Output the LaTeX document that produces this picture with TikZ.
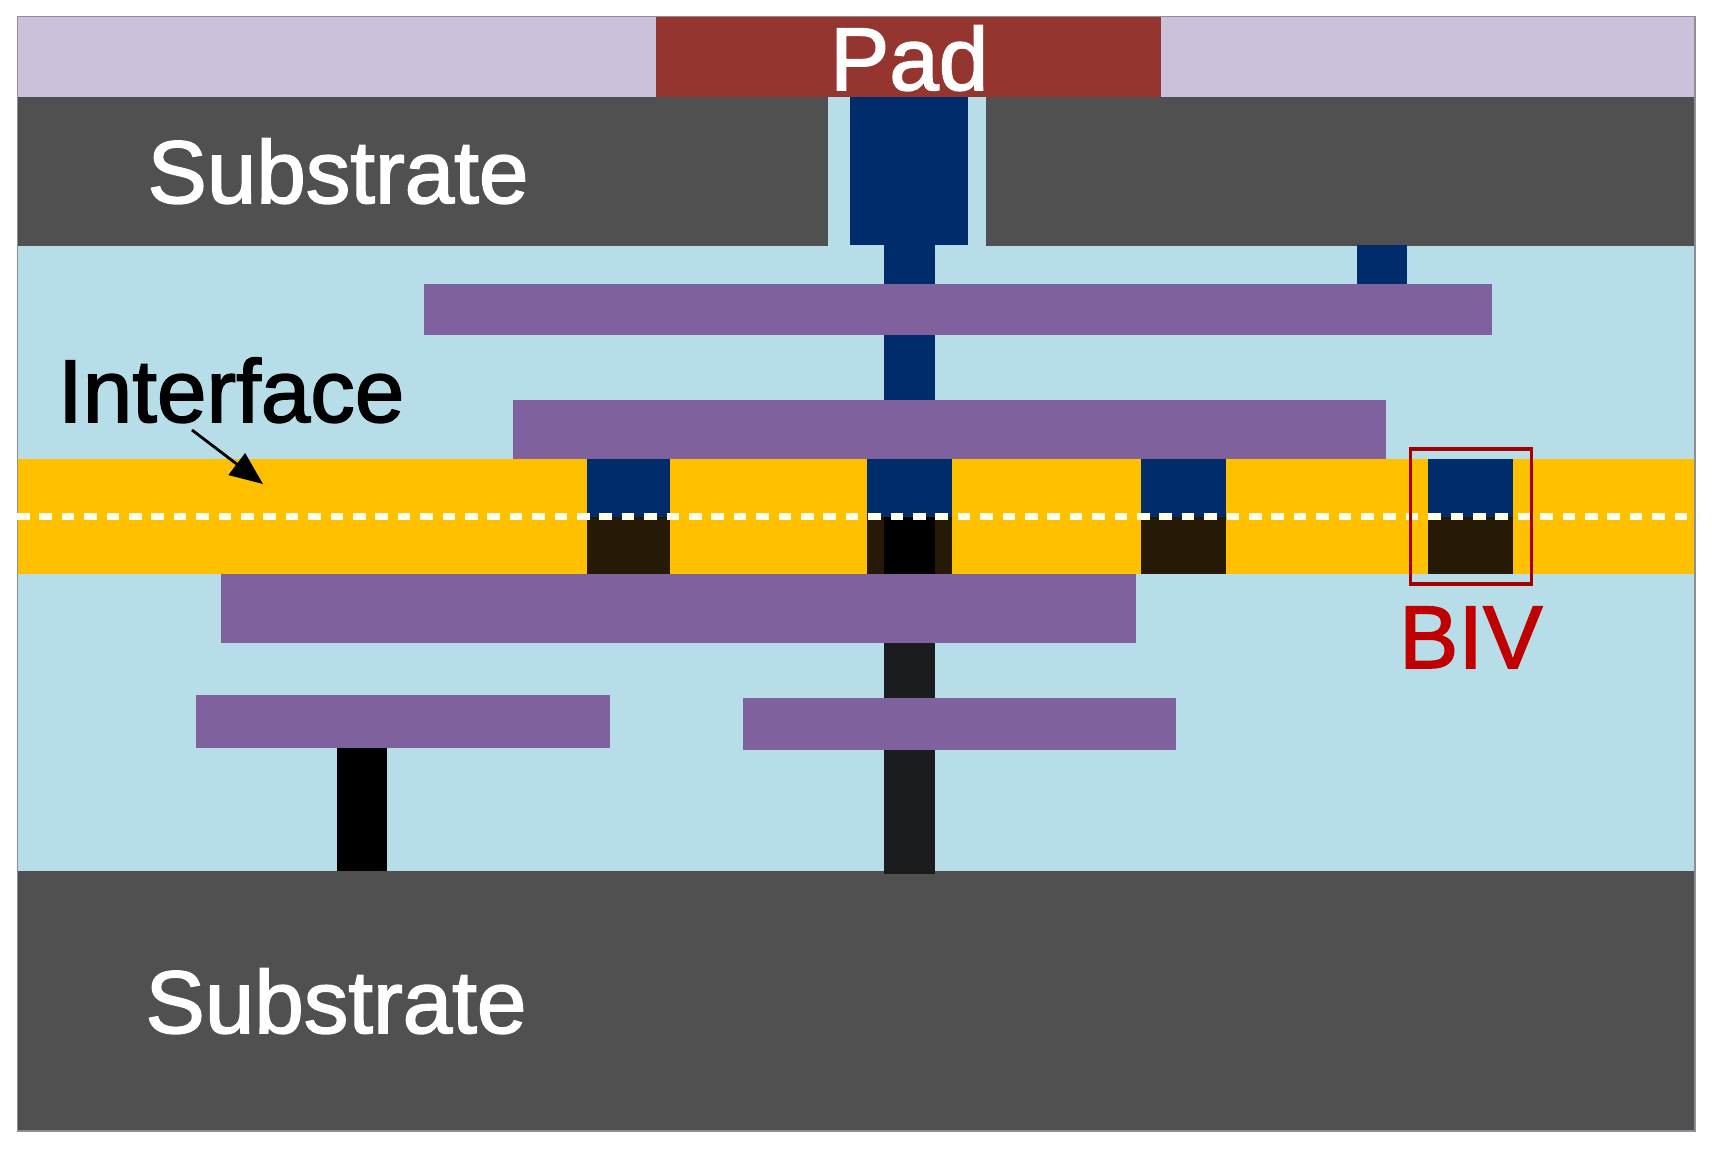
\documentclass[tikz,border=0pt]{standalone}
\usepackage{fontspec}
\setmainfont{Liberation Sans}
\newfontfamily\labfont[FakeBold=1.8]{Liberation Sans}
\usetikzlibrary{arrows.meta}
\definecolor{passiv}{HTML}{CCC1DA}
\definecolor{padred}{HTML}{953530}
\definecolor{subst}{HTML}{505050}
\definecolor{oxide}{HTML}{B7DEE8}
\definecolor{metal}{HTML}{7F629D}
\definecolor{bond}{HTML}{FFC000}
\definecolor{navy}{HTML}{002C6C}
\definecolor{darkvia}{HTML}{1A1C1E}
\definecolor{brownvia}{HTML}{261A06}
\definecolor{bivred}{HTML}{C00000}
\definecolor{frameg}{HTML}{8E8E96}
\tikzset{
  lab/.style={anchor=base west,inner sep=0pt,outer sep=0pt,font=\labfont\fontsize{89}{90}\selectfont},
  passfill/.style={fill=passiv},
  padfill/.style={fill=padred},
  subfill/.style={fill=subst},
  oxfill/.style={fill=oxide},
  metalfill/.style={fill=metal},
  bondfill/.style={fill=bond},
  navyfill/.style={fill=navy},
  darkfill/.style={fill=darkvia},
  brownfill/.style={fill=brownvia},
  blackfill/.style={fill=black},
  pointer/.style={-{Triangle[length=33pt,width=27pt]},line width=2.8pt,black},
  bondline/.style={draw=white!92!yellow,line width=7pt,dash pattern=on 12.5pt off 9.9pt},
  bivbox/.style={draw=bivred!85!black,line width=3.2pt}
}
\begin{document}
\begin{tikzpicture}[x=1pt,y=-1pt]
\useasboundingbox (0,0) rectangle (1712,1148);
\fill[white] (0,0) rectangle (1712,1148);
% layers
\fill[oxfill] (18,246) rectangle (1695,870.5);
\fill[passfill] (18,17) rectangle (1695,97);
\fill[padfill] (655.5,17) rectangle (1161,97);
\fill[subfill] (18,97) rectangle (828,246);
\fill[subfill] (986,97) rectangle (1695,246);
\fill[subfill] (18,870.5) rectangle (1695,1131);
\fill[oxfill] (828,97) rectangle (986,246);
% upper vias
\fill[navyfill] (849.5,97) rectangle (968,245);
\fill[navyfill] (884,245) rectangle (935,284);
\fill[navyfill] (1357,245) rectangle (1407,284);
\fill[navyfill] (884,334) rectangle (935,400);
% bonding layer
\fill[bondfill] (18,459) rectangle (1695,573.5);
% metals
\fill[metalfill] (424,284) rectangle (1492,335);
\fill[metalfill] (513,400) rectangle (1386,459);
\fill[metalfill] (221,573.5) rectangle (1136,643);
\fill[metalfill] (196,695) rectangle (610,748);
\fill[metalfill] (743,698) rectangle (1176,750);
% BIVs
\fill[navyfill] (587,459) rectangle (670,517);
\fill[brownfill] (587,517) rectangle (670,573.5);
\fill[navyfill] (867,459) rectangle (952,517);
\fill[brownfill] (867,517) rectangle (952,573.5);
\fill[blackfill] (884,517) rectangle (935,573.5);
\fill[navyfill] (1141,459) rectangle (1226,517);
\fill[brownfill] (1141,517) rectangle (1226,573.5);
\fill[navyfill] (1428,459) rectangle (1513,517);
\fill[brownfill] (1428,517) rectangle (1513,573.5);
% lower vias
\fill[darkfill] (884,643) rectangle (935,698);
\fill[darkfill] (884,750) rectangle (935,874);
\fill[blackfill] (337,748) rectangle (387,870.5);
% frame
\draw[frameg,line width=1.2pt] (17.5,16.5) rectangle (1695,1131);
% interface line
\coordinate (dashL) at (17,516.5);
\coordinate (dashR) at (1700,516.5);
\draw[bondline] (dashL) -- (dashR);
% BIV marker
\node[bivbox,minimum width=121pt,minimum height=135pt,inner sep=0pt] (bivmark) at (1471,516.5) {};
% labels
\node[lab,white] (padlab) at (830,90) {Pad};
\node[lab,white] (subtop) at (147.5,203) {Substrate};
\node[lab,white] (subbot) at (145.5,1033) {Substrate};
\node[lab,black] (iface) at (58,422) {Interface};
\node[lab,bivred] (bivlab) at (1399,668) {BIV};
% arrow
\coordinate (arrS) at (192,430);
\coordinate (arrE) at (263,484);
\draw[pointer] (arrS) -- (arrE);
\end{tikzpicture}
\end{document}
